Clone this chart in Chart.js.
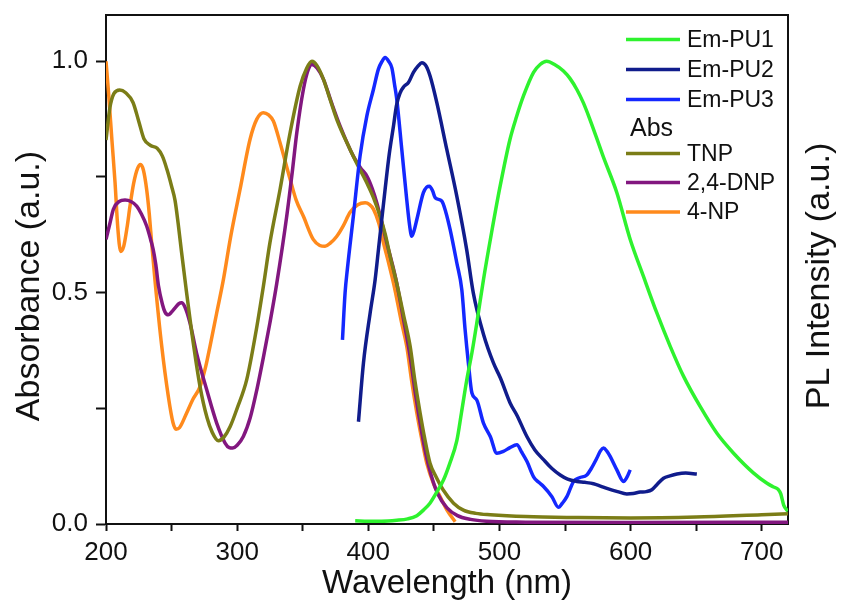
<!DOCTYPE html>
<html>
<head>
<meta charset="utf-8">
<script src="https://cdn.jsdelivr.net/npm/chart.js@4.4.1/dist/chart.umd.min.js"></script>
<style>
  html, body { margin: 0; padding: 0; background: #ffffff; }
  #wrap { width: 842px; height: 607px; }
</style>
</head>
<body>
<div id="wrap"><canvas id="chart" width="842" height="607"></canvas></div>
<script>
// ---- Emission spectra (normalised PL intensity) ----
const pu1Wl = [390, 400, 410, 421.7, 430, 437, 442, 447, 452, 457.3, 462, 467.5, 471, 475, 479, 482.7, 487.8, 494, 500.5, 508, 513, 518.3, 526, 531, 536, 542, 548.8, 554, 559, 564, 569, 574, 579, 589.5, 599.7, 609.8, 620, 630.2, 640.4, 653, 665.8, 678.5, 693.8, 704, 709, 712.5, 714.5, 716.7, 719.2, 720];
const pu1Int = [0.007, 0.006, 0.006, 0.008, 0.011, 0.018, 0.03, 0.045, 0.068, 0.095, 0.13, 0.18, 0.24, 0.31, 0.37, 0.434, 0.528, 0.63, 0.73, 0.831, 0.88, 0.925, 0.976, 0.993, 1.0, 0.993, 0.979, 0.962, 0.939, 0.91, 0.874, 0.835, 0.795, 0.716, 0.615, 0.535, 0.456, 0.384, 0.319, 0.254, 0.196, 0.153, 0.11, 0.088, 0.08, 0.075, 0.065, 0.041, 0.03, 0.028];

const pu2Wl = [392.5, 396.3, 401.4, 405.2, 408, 412.8, 416, 419.2, 421.5, 424.3, 427, 430.6, 434.4, 438, 440.8, 444, 447.1, 452.2, 459.8, 467.5, 475, 480, 487.8, 495.4, 500.8, 508.2, 513.3, 520.9, 527, 533.6, 540, 546.3, 552, 559, 565, 571.7, 577, 581.9, 590, 597.1, 602, 607.3, 612, 616.2, 620, 625.1, 630, 635.3, 642, 650.5];
const pu2Int = [0.221, 0.348, 0.456, 0.528, 0.6, 0.723, 0.8, 0.86, 0.905, 0.932, 0.945, 0.954, 0.976, 0.99, 0.997, 0.99, 0.968, 0.911, 0.81, 0.708, 0.593, 0.5, 0.41, 0.348, 0.315, 0.261, 0.235, 0.189, 0.16, 0.139, 0.12, 0.106, 0.097, 0.092, 0.09, 0.087, 0.082, 0.077, 0.07, 0.065, 0.066, 0.069, 0.07, 0.074, 0.085, 0.099, 0.104, 0.108, 0.11, 0.108];

const pu3Wl = [380.3, 382.3, 384, 388.6, 393.7, 398.9, 403.9, 407.7, 410.5, 412.8, 415.5, 418, 420, 421.7, 425.5, 429.3, 431.5, 433.1, 435, 437, 442, 444.5, 446.6, 449, 451, 456, 459, 462.4, 467.5, 471.3, 473.8, 476.3, 479, 482.7, 487.8, 493, 498, 503, 508, 513.3, 517, 521, 526, 530, 533.6, 540, 545, 548, 551.4, 556.5, 561, 566.6, 570, 574.2, 577, 579.3, 582, 584.4, 589.5, 594.6, 597, 599.7];
const pu3Int = [0.398, 0.5, 0.55, 0.665, 0.795, 0.882, 0.939, 0.983, 1.0, 1.008, 1.0, 0.985, 0.95, 0.918, 0.81, 0.701, 0.645, 0.622, 0.635, 0.658, 0.716, 0.728, 0.73, 0.72, 0.705, 0.698, 0.675, 0.636, 0.564, 0.506, 0.42, 0.348, 0.283, 0.268, 0.218, 0.189, 0.153, 0.157, 0.165, 0.171, 0.155, 0.135, 0.102, 0.09, 0.081, 0.059, 0.036, 0.045, 0.059, 0.092, 0.1, 0.106, 0.12, 0.142, 0.158, 0.164, 0.157, 0.146, 0.117, 0.092, 0.1, 0.117];

// ---- Absorption spectra of the nitrophenols ----
const tnpWl = [200, 203, 206, 210.5, 215, 220.6, 225, 229, 234, 239, 243, 246.5, 250, 252.6, 255, 257.5, 261, 266.9, 271.7, 277, 281, 285.7, 290, 294.6, 300, 307.3, 314, 320, 325, 332.7, 340.4, 348, 353, 357, 361, 365.8, 370, 376, 386, 392, 398.9, 404, 409, 413, 416.6, 421.7, 427, 431.9, 435.5, 439.5, 443, 447, 452, 457, 465, 472.5, 482, 493, 520, 560, 600, 650, 700, 720];
const tnpAbs = [0.83, 0.9, 0.93, 0.938, 0.932, 0.911, 0.87, 0.832, 0.818, 0.812, 0.795, 0.766, 0.73, 0.7, 0.65, 0.59, 0.51, 0.384, 0.297, 0.23, 0.198, 0.18, 0.188, 0.21, 0.25, 0.312, 0.41, 0.514, 0.608, 0.723, 0.846, 0.946, 0.985, 1.0, 0.99, 0.961, 0.925, 0.874, 0.81, 0.775, 0.737, 0.705, 0.665, 0.625, 0.579, 0.52, 0.45, 0.384, 0.31, 0.24, 0.185, 0.132, 0.1, 0.074, 0.045, 0.03, 0.023, 0.02, 0.016, 0.014, 0.013, 0.015, 0.02, 0.022];

const dnpWl = [200, 203, 205.6, 210, 214.5, 219, 223.4, 227, 231, 234, 236, 238, 240, 243, 245, 247.5, 250, 253, 255.5, 257.7, 260, 264, 269, 276.8, 284.4, 290.8, 294, 296.6, 300, 304.7, 310, 315, 320, 325, 330.2, 337.8, 342, 345.5, 350.5, 354, 357, 361, 365.8, 372, 378.5, 388.6, 394, 398.9, 403, 406.5, 410, 414, 418, 421.7, 427, 432, 436, 440, 444, 448, 453, 460, 468, 478, 490, 520, 600, 720];
const dnpAbs = [0.615, 0.65, 0.68, 0.697, 0.7, 0.697, 0.687, 0.67, 0.644, 0.615, 0.593, 0.56, 0.515, 0.475, 0.458, 0.452, 0.458, 0.468, 0.476, 0.478, 0.47, 0.435, 0.37, 0.29, 0.218, 0.175, 0.165, 0.164, 0.17, 0.189, 0.23, 0.29, 0.36, 0.435, 0.52, 0.665, 0.76, 0.846, 0.939, 0.98, 0.993, 0.985, 0.961, 0.91, 0.86, 0.795, 0.77, 0.752, 0.725, 0.694, 0.655, 0.608, 0.565, 0.52, 0.44, 0.36, 0.28, 0.21, 0.15, 0.105, 0.065, 0.035, 0.018, 0.01, 0.006, 0.004, 0.003, 0.004];

const npWl = [200, 202, 204.5, 206.9, 209, 211.2, 213.5, 216, 218.3, 221, 224, 226.4, 228.5, 231, 233, 234.8, 237.4, 242.5, 247.5, 251, 253.4, 256, 261.5, 266, 271.7, 276, 279.3, 284.4, 289.5, 295, 302.2, 309.8, 315, 320, 324, 327.6, 332.7, 340.4, 345, 350.5, 358, 363, 367, 371, 376, 381, 386, 392, 397.6, 401, 404, 408, 411.5, 415, 418, 420.4, 425, 429.3, 433, 437, 441, 444.6, 450, 454.8, 460, 466.2];
const npAbs = [1.0, 0.93, 0.83, 0.738, 0.64, 0.589, 0.6, 0.64, 0.687, 0.735, 0.768, 0.777, 0.765, 0.723, 0.67, 0.608, 0.525, 0.384, 0.276, 0.22, 0.205, 0.208, 0.24, 0.268, 0.297, 0.34, 0.384, 0.456, 0.528, 0.62, 0.723, 0.831, 0.875, 0.889, 0.884, 0.871, 0.824, 0.745, 0.7, 0.665, 0.615, 0.602, 0.6, 0.607, 0.622, 0.645, 0.673, 0.69, 0.694, 0.69, 0.68, 0.65, 0.608, 0.57, 0.535, 0.505, 0.44, 0.384, 0.31, 0.24, 0.18, 0.131, 0.085, 0.059, 0.03, 0.005];

// ---- Labels ----
const seriesLabels = ['Em-PU1', 'Em-PU2', 'Em-PU3', 'TNP', '2,4-DNP', '4-NP'];
const absHeader = 'Abs';
const xTitle = 'Wavelength (nm)';
const yTitle = 'Absorbance (a.u.)';
const y2Title = 'PL Intensity (a.u.)';

const seriesColors = ['#2ef22e', '#101c8c', '#1428ff', '#7b7d17', '#82177f', '#ff8a1c'];

function pairs(xs, ys) { return xs.map((x, i) => ({ x: x, y: ys[i] })); }

const seriesData = [
  pairs(pu1Wl, pu1Int), pairs(pu2Wl, pu2Int), pairs(pu3Wl, pu3Int),
  pairs(tnpWl, tnpAbs), pairs(dnpWl, dnpAbs), pairs(npWl, npAbs)
];

const FONT = "'Liberation Sans', Arial, Helvetica, sans-serif";
Chart.defaults.font.family = FONT;
Chart.defaults.color = '#111';

// Frame top edge, in-plot legend and the two vertical axis titles
const decorPlugin = {
  id: 'decor',
  afterDraw(chart) {
    const ctx = chart.ctx;
    const a = chart.chartArea;
    ctx.save();
    ctx.strokeStyle = '#111';
    ctx.lineWidth = 2;
    ctx.beginPath();
    ctx.moveTo(a.left - 1, a.top);
    ctx.lineTo(a.right + 1, a.top);
    ctx.stroke();

    // legend
    const lx0 = 626, lx1 = 680, tx = 687;
    const rows = [39.5, 69.5, 99.5, 153.5, 182.5, 212];
    ctx.font = '23px ' + FONT;
    ctx.textBaseline = 'middle';
    ctx.textAlign = 'left';
    chart.data.datasets.forEach((ds, i) => {
      const y = rows[i];
      ctx.strokeStyle = ds.borderColor;
      ctx.lineWidth = 3.5;
      ctx.beginPath();
      ctx.moveTo(lx0, y);
      ctx.lineTo(lx1, y);
      ctx.stroke();
      ctx.fillStyle = '#111';
      ctx.fillText(ds.label, tx, y + 1);
    });
    ctx.font = '25px ' + FONT;
    ctx.fillText(absHeader, 630, 129);

    // vertical titles, both reading bottom to top
    ctx.textAlign = 'center';
    ctx.textBaseline = 'middle';
    ctx.font = '34px ' + FONT;
    ctx.save();
    ctx.translate(30, 286);
    ctx.rotate(-Math.PI / 2);
    ctx.fillText(yTitle, 0, 0);
    ctx.restore();

    ctx.translate(820, 276);
    ctx.rotate(-Math.PI / 2);
    ctx.fillText(y2Title, 0, 0);
    ctx.restore();
  }
};

new Chart(document.getElementById('chart'), {
  type: 'line',
  data: {
    datasets: seriesLabels.map((label, i) => ({
      label: label,
      data: seriesData[i],
      borderColor: seriesColors[i],
      backgroundColor: seriesColors[i],
      borderWidth: 3.5,
      pointRadius: 0,
      cubicInterpolationMode: 'monotone',
      fill: false
    }))
  },
  options: {
    responsive: false,
    animation: false,
    layout: { padding: { top: 15, left: 0, right: 0, bottom: 0 } },
    plugins: { legend: { display: false }, tooltip: { enabled: false } },
    scales: {
      x: {
        type: 'linear',
        position: 'bottom',
        min: 200,
        max: 720,
        afterFit(s) { s.height = 83; s.paddingLeft = 0; s.paddingRight = 0; },
        ticks: {
          stepSize: 50,
          includeBounds: false,
          autoSkip: false,
          maxRotation: 0,
          padding: 6,
          color: '#111',
          font: { size: 26 },
          callback: v => (v % 100 === 0 ? String(v) : '')
        },
        grid: { display: true, drawOnChartArea: false, drawTicks: true, tickLength: 7, tickColor: '#111', tickWidth: 2 },
        border: { display: true, color: '#111', width: 2 },
        title: { display: true, text: xTitle, color: '#111', font: { size: 33 }, padding: { top: 0, bottom: 3 } }
      },
      y: {
        position: 'left',
        min: 0,
        max: 1.1,
        afterFit(s) { s.width = 106; s.paddingTop = 0; s.paddingBottom = 0; },
        ticks: {
          stepSize: 0.25,
          includeBounds: false,
          autoSkip: false,
          padding: 8,
          color: '#111',
          font: { size: 26 },
          callback: v => (Math.abs(v * 2 - Math.round(v * 2)) < 1e-6 ? v.toFixed(1) : '')
        },
        grid: { display: true, drawOnChartArea: false, drawTicks: true, tickLength: 10, tickColor: '#111', tickWidth: 2 },
        border: { display: true, color: '#111', width: 2 },
        title: { display: false }
      },
      y2: {
        position: 'right',
        min: 0,
        max: 1.1,
        display: true,
        afterFit(s) { s.width = 54; s.paddingTop = 0; s.paddingBottom = 0; },
        ticks: { display: false },
        grid: { display: false, drawTicks: false },
        border: { display: true, color: '#111', width: 2 }
      }
    }
  },
  plugins: [decorPlugin]
});
</script>
</body>
</html>
